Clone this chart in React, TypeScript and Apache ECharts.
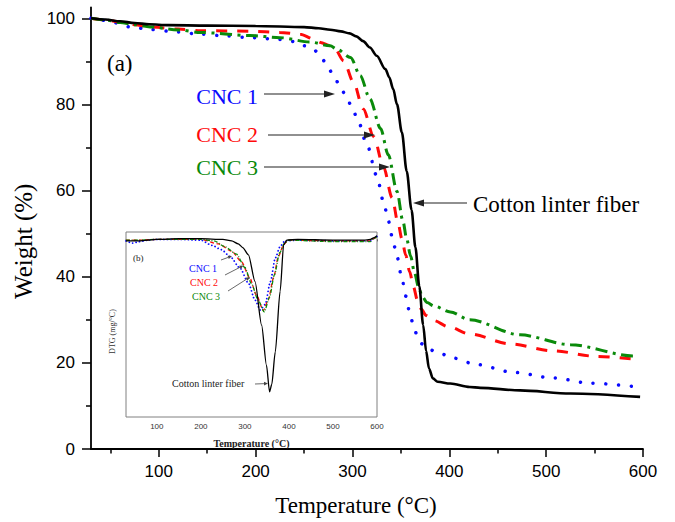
import React, { useEffect, useRef } from 'react';
import * as echarts from 'echarts';

// ---------- Main TGA data (Temperature °C, Weight %) ----------
const cottonT = [30, 45, 60, 75, 90, 110, 150, 200, 250, 265, 277, 288, 297, 304, 311, 318, 325, 334, 338, 342, 346, 351, 356, 361, 365, 369, 373, 376, 379, 383, 388, 401, 421, 432, 473, 525, 597];
const cottonW = [100, 99.7, 99.3, 98.9, 98.6, 98.4, 98.3, 98.2, 97.95, 97.7, 97.35, 96.95, 96.5, 95.8, 94.7, 93.2, 91.3, 88.2, 86.3, 83.6, 80.0, 73.5, 64.5, 55.5, 46.8, 37.8, 28.8, 22.8, 18.7, 16.4, 15.6, 15.2, 14.4, 14.2, 13.6, 12.9, 12.1];

const cnc1T = [30, 40, 53, 70, 91, 120, 143, 170, 194, 225, 240, 251, 260, 266, 272, 280, 287, 294, 300, 306, 315, 325, 332, 337, 341, 346, 351, 355, 359, 363, 367, 372, 378, 390, 404, 428, 466, 507, 545, 595];
const cnc1W = [100, 99.6, 99.0, 98.0, 97.4, 96.8, 96.3, 95.9, 95.5, 95.1, 94.6, 93.6, 92.7, 91.6, 89.8, 87.0, 84.3, 81.6, 79.0, 76.0, 70.6, 63.5, 57.5, 53.0, 49.3, 44.6, 39.8, 35.5, 31.8, 28.6, 26.2, 24.4, 23.2, 22.2, 21.1, 19.6, 17.8, 16.5, 15.3, 14.4];

const cnc2T = [30, 45, 60, 75, 91, 120, 143, 194, 225, 246, 260, 267, 277, 282, 291, 301, 311, 322, 332, 341, 347, 351, 355, 359, 363, 367, 371, 376, 384, 399, 421, 463, 507, 552, 597];
const cnc2W = [100, 99.6, 99.1, 98.5, 98.0, 97.5, 97.1, 97.0, 96.7, 96.3, 95.2, 94.4, 93.6, 92.8, 90.1, 85.2, 79.0, 72.5, 65.5, 58.3, 52.5, 48.8, 45.0, 41.2, 37.6, 34.6, 32.5, 31.0, 29.8, 28.4, 26.7, 24.4, 22.8, 21.5, 20.7];

const cnc3T = [30, 45, 60, 75, 91, 120, 143, 194, 225, 256, 277, 284, 298, 308, 318, 329, 337, 346, 352, 356, 360, 364, 368, 372, 377, 384, 401, 421, 473, 525, 590, 595];
const cnc3W = [100, 99.6, 99.0, 98.5, 98.0, 97.3, 96.7, 96.0, 95.5, 94.5, 93.6, 92.8, 90.9, 86.7, 81.3, 74.4, 68.3, 59.8, 53.0, 48.8, 44.8, 41.0, 37.8, 35.4, 34.0, 33.2, 31.8, 30.0, 26.5, 24.2, 21.6, 21.4];

// ---------- Inset DTG data (Temperature °C, DTG) ----------
const dtgCottonT = [30, 60, 100, 150, 200, 250, 270, 285, 295, 308, 323, 338, 349, 356, 361, 369, 380, 388, 395, 420, 500, 570, 585, 592, 600];
const dtgCotton = [-0.01, -0.01, 0, 0.005, 0.005, 0, -0.01, -0.03, -0.055, -0.104, -0.285, -0.58, -0.85, -1.03, -0.98, -0.76, -0.35, -0.036, -0.005, 0, -0.005, -0.005, 0, 0.01, 0.025];

const dtgCnc1T = [30, 45, 60, 80, 100, 150, 200, 225, 247, 266, 289, 308, 323, 335, 346, 358, 369, 380, 391, 420, 500, 585, 592, 600];
const dtgCnc1 = [-0.01, -0.025, -0.015, -0.005, 0, 0, -0.005, -0.04, -0.07, -0.115, -0.194, -0.296, -0.41, -0.477, -0.44, -0.285, -0.126, -0.048, -0.01, -0.005, -0.01, -0.01, 0.005, 0.02];

const dtgCnc2T = [30, 60, 100, 150, 200, 240, 270, 292, 311, 326, 342, 353, 365, 376, 388, 398, 500, 585, 592, 600];
const dtgCnc2 = [-0.005, -0.005, 0, 0, 0, -0.03, -0.08, -0.15, -0.26, -0.375, -0.48, -0.41, -0.26, -0.115, -0.036, -0.005, -0.01, -0.01, 0.005, 0.02];

const dtgCnc3T = [30, 60, 100, 150, 200, 230, 255, 281, 300, 315, 330, 344, 356, 367, 379, 390, 400, 500, 585, 592, 600];
const dtgCnc3 = [-0.005, -0.005, 0, 0, 0, -0.01, -0.05, -0.1, -0.19, -0.3, -0.41, -0.49, -0.39, -0.24, -0.09, -0.025, -0.005, -0.015, -0.015, 0.005, 0.02];

// ---------- Ticks ----------
const xTicks = [100, 200, 300, 400, 500, 600];
const xMinorTicks = [50, 150, 250, 350, 450, 550];
const yTicks = [0, 20, 40, 60, 80, 100];
const yMinorTicks = [10, 30, 50, 70, 90];
const insetTicks = [50, 100, 150, 200, 250, 300, 350, 400, 450, 500, 550, 600];

const BLUE = '#0a0aff';
const RED = '#ff0a0a';
const GREEN = '#0a8a0a';
const SERIF = '"Liberation Serif", "Times New Roman", serif';
const SANS = '"Liberation Sans", Arial, sans-serif';

const pairs = (xs: number[], ys: number[]) => xs.map((x, i) => [x, ys[i]]);

function arrow(x1: number, y1: number, x2: number, y2: number, hl: number, hw: number, color: string, lw: number) {
  const dx = x2 - x1, dy = y2 - y1;
  const L = Math.hypot(dx, dy);
  const ux = dx / L, uy = dy / L;
  const bx = x2 - ux * hl, by = y2 - uy * hl;
  const px = -uy * hw, py = ux * hw;
  return [
    { type: 'line', z: 100, shape: { x1, y1, x2: bx, y2: by }, style: { stroke: color, lineWidth: lw } },
    { type: 'polygon', z: 100, shape: { points: [[x2, y2], [bx + px, by + py], [bx - px, by - py]] }, style: { fill: color } },
  ];
}

function txt(x: number, y: number, text: string, color: string, size: number, align: string, family = SERIF, weight = 'normal') {
  return {
    type: 'text', z: 100, x, y,
    style: { text, fill: color, fontSize: size, fontFamily: family, fontWeight: weight, align, verticalAlign: 'middle' },
  };
}

export default function App() {
  const ref = useRef<HTMLDivElement>(null);
  useEffect(() => {
    if (!ref.current) return;
    const chart = echarts.init(ref.current, undefined, { renderer: 'svg' });
    const mainLine = (name: string, data: number[][], color: string, type: any, width: number, cap = 'butt') => ({
      name, type: 'line', xAxisIndex: 0, yAxisIndex: 0, data, symbol: 'none', smooth: 0.3, smoothMonotone: 'x',
      lineStyle: { color, width, type, cap }, z: 3,
    });
    const insetLine = (name: string, data: number[][], color: string, type: any, width: number, cap = 'butt') => ({
      name, type: 'line', xAxisIndex: 2, yAxisIndex: 2, data, symbol: 'none', smooth: 0.25, smoothMonotone: 'x',
      lineStyle: { color, width, type, cap }, z: 6,
    });
    chart.setOption({
      animation: false,
      backgroundColor: '#fff',
      grid: [
        { left: 91, right: 32, top: 7.5, bottom: 68.5 },
        { left: 126, right: 298, top: 232, bottom: 105, show: true, borderColor: '#808080', borderWidth: 1, backgroundColor: '#fff', z: 4 },
      ],
      xAxis: [
        {
          type: 'value', gridIndex: 0, position: 'bottom', min: 30, max: 600,
          axisLine: { lineStyle: { color: '#000', width: 1.8 } },
          axisTick: { customValues: xTicks, length: 8, lineStyle: { color: '#000', width: 1.5 } },
          axisLabel: { customValues: xTicks, fontSize: 17, color: '#000', fontFamily: SANS, margin: 14 },
          splitLine: { show: false },
          name: 'Temperature (°C)', nameLocation: 'middle', nameGap: 45,
          nameTextStyle: { fontFamily: SERIF, fontSize: 23, color: '#000', padding: [0, 22, 0, 0] },
        },
        {
          type: 'value', gridIndex: 0, position: 'bottom', min: 30, max: 600,
          axisLine: { show: false },
          axisTick: { customValues: xMinorTicks, length: 4.5, lineStyle: { color: '#000', width: 1.5 } },
          axisLabel: { show: false }, splitLine: { show: false },
        },
        {
          type: 'value', gridIndex: 1, position: 'bottom', min: 30, max: 600,
          axisLine: { lineStyle: { color: '#808080', width: 1 } },
          axisTick: { customValues: insetTicks, length: 2, lineStyle: { color: '#555', width: 1 } },
          axisLabel: { customValues: xTicks, fontSize: 8, color: '#333', fontFamily: SANS, margin: 5 },
          splitLine: { show: false },
          name: 'Temperature (°C)', nameLocation: 'middle', nameGap: 21,
          nameTextStyle: { fontFamily: SERIF, fontSize: 10, fontWeight: 'bold', color: '#222' },
        },
      ],
      yAxis: [
        {
          type: 'value', gridIndex: 0, position: 'left', min: 0, max: 102.5,
          axisLine: { show: true, lineStyle: { color: '#000', width: 1.8 } },
          axisTick: { customValues: yTicks, length: 9, lineStyle: { color: '#000', width: 1.5 } },
          axisLabel: { customValues: yTicks, fontSize: 17, color: '#000', fontFamily: SANS, margin: 16 },
          splitLine: { show: false },
          name: 'Weight (%)', nameLocation: 'middle', nameGap: 51, nameRotate: 90,
          nameTextStyle: { fontFamily: SERIF, fontSize: 25, color: '#000', padding: [0, 26, 0, 0] },
        },
        {
          type: 'value', gridIndex: 0, position: 'left', min: 0, max: 102.5,
          axisLine: { show: false },
          axisTick: { customValues: yMinorTicks, length: 5, lineStyle: { color: '#000', width: 1.5 } },
          axisLabel: { show: false }, splitLine: { show: false },
        },
        {
          type: 'value', gridIndex: 1, position: 'left', min: -1.2, max: 0.05,
          axisLine: { show: false }, axisTick: { show: false }, axisLabel: { show: false }, splitLine: { show: false },
          name: 'DTG (mg/°C)', nameLocation: 'middle', nameGap: 10, nameRotate: 90,
          nameTextStyle: { fontFamily: SERIF, fontSize: 8, color: '#333', padding: [0, 14, 0, 0] },
        },
      ],
      series: [
        mainLine('CNC 1', pairs(cnc1T, cnc1W), BLUE, [0.01, 12.7], 3.5, 'round'),
        mainLine('CNC 2', pairs(cnc2T, cnc2W), RED, [11, 10], 3),
        mainLine('CNC 3', pairs(cnc3T, cnc3W), GREEN, [12, 5.5, 3, 5.5], 3),
        mainLine('Cotton linter fiber', pairs(cottonT, cottonW), '#000', 'solid', 2.6),
        insetLine('CNC 1 DTG', pairs(dtgCnc1T, dtgCnc1), BLUE, [0.01, 3.5], 1.8, 'round'),
        insetLine('CNC 2 DTG', pairs(dtgCnc2T, dtgCnc2), RED, [4, 2.5], 1.3),
        insetLine('CNC 3 DTG', pairs(dtgCnc3T, dtgCnc3), GREEN, [4, 1.5, 1, 1.5], 1.3),
        insetLine('Cotton DTG', pairs(dtgCottonT, dtgCotton), '#000', 'solid', 1.3),
      ],
      graphic: [
        txt(107, 63, '(a)', '#000', 23, 'left'),
        txt(258, 96, 'CNC 1', BLUE, 22, 'right'),
        txt(258, 134, 'CNC 2', RED, 22, 'right'),
        txt(258, 167, 'CNC 3', GREEN, 22, 'right'),
        txt(473, 204, 'Cotton linter fiber', '#000', 23, 'left'),
        ...arrow(264, 94, 335, 94, 11, 3.5, '#222', 1.2),
        ...arrow(268, 135, 375, 135, 11, 3.5, '#222', 1.2),
        ...arrow(264, 167, 390, 167, 11, 3.5, '#222', 1.2),
        ...arrow(467, 203, 413, 203, 11, 3.5, '#222', 1.2),
        txt(133, 258, '(b)', '#222', 9, 'left'),
        txt(189, 268, 'CNC 1', BLUE, 10, 'left'),
        txt(190, 282, 'CNC 2', RED, 10, 'left'),
        txt(192, 296, 'CNC 3', GREEN, 10, 'left'),
        txt(172, 383, 'Cotton linter fiber', '#222', 10, 'left'),
        ...arrow(221, 260, 232, 256, 4, 1.8, '#444', 0.8),
        ...arrow(225, 275, 243.5, 265.5, 4, 1.8, '#444', 0.8),
        ...arrow(228, 291, 250, 277, 4, 1.8, '#444', 0.8),
        ...arrow(255, 384, 268, 383.5, 4, 1.8, '#444', 0.8),
      ],
    });
    return () => chart.dispose();
  }, []);
  return <div ref={ref} style={{ position: 'fixed', left: 0, top: 0, width: 675, height: 522 }} />;
}
